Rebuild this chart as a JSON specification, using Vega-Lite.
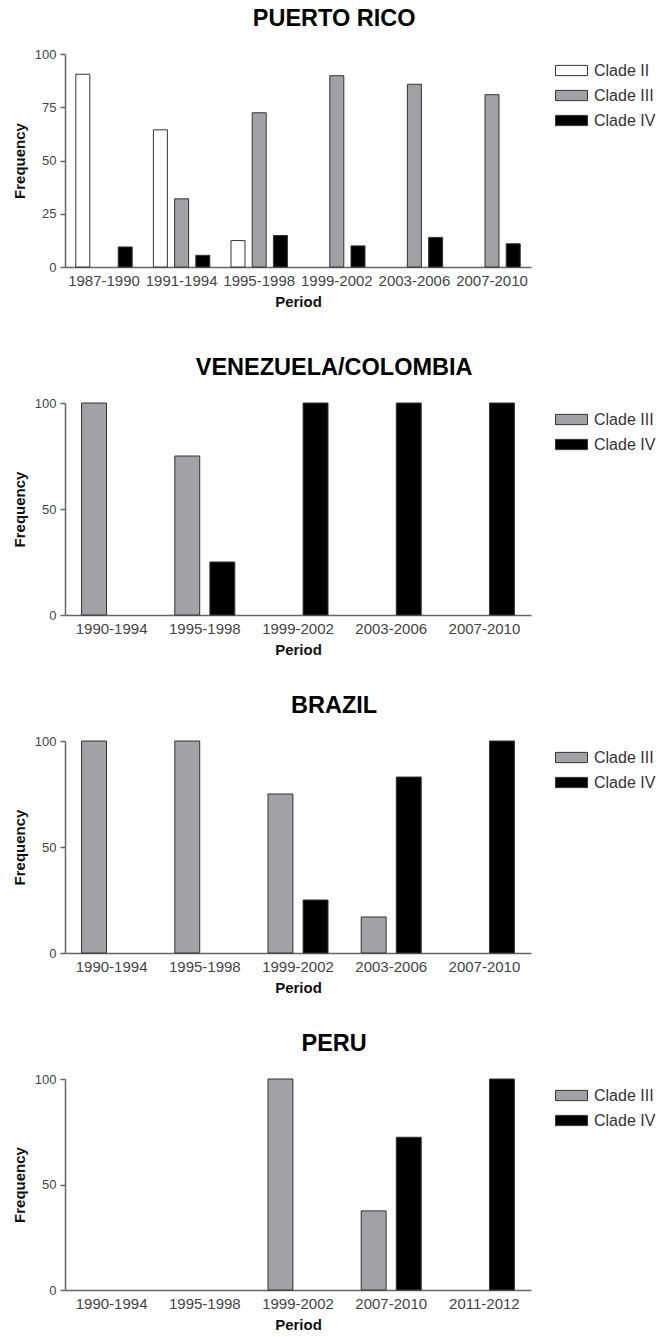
{
  "$schema": "https://vega.github.io/schema/vega-lite/v6.json",
  "padding": {"left": 12, "top": 6, "right": 5, "bottom": 5},
  "background": "white",
  "spacing": 46,
  "config": {
    "font": "Liberation Sans",
    "view": {"stroke": null},
    "axis": {"labelFont": "Liberation Sans", "labelColor": "#444", "titleColor": "#111", "titleFont": "Liberation Sans", "titleFontWeight": "bold", "titleFontSize": 15, "domainColor": "#666", "domainWidth": 1.5, "tickColor": "#666", "tickWidth": 1.5, "grid": false},
    "axisX": {"labelFontSize": 15, "ticks": false, "labelAngle": 0, "labelPadding": 6, "titlePadding": 6},
    "axisY": {"labelFontSize": 13, "tickSize": 5, "labelPadding": 4, "titlePadding": 7},
    "legend": {"orient": "right", "offset": 24, "symbolType": "M-1,-0.32H1V0.32H-1Z", "symbolSize": 1024, "symbolStrokeColor": "#333", "symbolStrokeWidth": 1, "labelFontSize": 16, "labelColor": "#333", "labelFont": "Liberation Sans", "labelOffset": 6, "rowPadding": -7.5, "padding": 0},
    "title": {"fontSize": 23.5, "fontWeight": "bold", "color": "#000", "font": "Liberation Sans", "anchor": "middle", "frame": "bounds", "offset": 18},
    "bar": {"stroke": "#333", "strokeWidth": 1}
  },
  "resolve": {"scale": {"color": "independent", "x": "independent", "y": "independent", "xOffset": "independent"}, "legend": {"color": "independent"}},
  "vconcat": [
    {
      "title": "PUERTO RICO",
      "width": 466, "height": 213,
      "data": {"values": [
        {"period": "1987-1990", "clade": "Clade II", "frequency": 90.5},
        {"period": "1987-1990", "clade": "Clade IV", "frequency": 9.4},
        {"period": "1991-1994", "clade": "Clade II", "frequency": 64.4},
        {"period": "1991-1994", "clade": "Clade III", "frequency": 32},
        {"period": "1991-1994", "clade": "Clade IV", "frequency": 5.5},
        {"period": "1995-1998", "clade": "Clade II", "frequency": 12.4},
        {"period": "1995-1998", "clade": "Clade III", "frequency": 72.4},
        {"period": "1995-1998", "clade": "Clade IV", "frequency": 14.8},
        {"period": "1999-2002", "clade": "Clade III", "frequency": 89.8},
        {"period": "1999-2002", "clade": "Clade IV", "frequency": 9.9},
        {"period": "2003-2006", "clade": "Clade III", "frequency": 85.8},
        {"period": "2003-2006", "clade": "Clade IV", "frequency": 13.9},
        {"period": "2007-2010", "clade": "Clade III", "frequency": 80.9},
        {"period": "2007-2010", "clade": "Clade IV", "frequency": 10.9}
      ]},
      "mark": {"type": "bar"},
      "encoding": {
        "x": {"field": "period", "type": "nominal", "title": "Period", "sort": null, "scale": {"domain": ["1987-1990", "1991-1994", "1995-1998", "1999-2002", "2003-2006", "2007-2010"], "paddingInner": 0.273, "paddingOuter": 0.139}},
        "xOffset": {"field": "clade", "type": "nominal", "scale": {"domain": ["Clade II", "Clade III", "Clade IV"], "paddingInner": 0.34, "paddingOuter": 0}},
        "y": {"field": "frequency", "type": "quantitative", "title": "Frequency", "scale": {"domain": [0, 100], "nice": false}, "axis": {"values": [0, 25, 50, 75, 100]}},
        "color": {"field": "clade", "type": "nominal", "scale": {"domain": ["Clade II", "Clade III", "Clade IV"], "range": ["#ffffff", "#a2a2a6", "#000000"]}, "legend": {"title": null}}
      }
    },
    {
      "spacing": 36,
      "resolve": {"scale": {"color": "independent", "x": "independent", "y": "independent", "xOffset": "independent"}, "legend": {"color": "independent"}},
      "vconcat": [
        {
          "title": "VENEZUELA/COLOMBIA",
          "width": 466, "height": 212,
          "data": {"values": [
            {"period": "1990-1994", "clade": "Clade III", "frequency": 100},
            {"period": "1995-1998", "clade": "Clade III", "frequency": 75},
            {"period": "1995-1998", "clade": "Clade IV", "frequency": 25},
            {"period": "1999-2002", "clade": "Clade IV", "frequency": 100},
            {"period": "2003-2006", "clade": "Clade IV", "frequency": 100},
            {"period": "2007-2010", "clade": "Clade IV", "frequency": 100}
          ]},
          "mark": {"type": "bar"},
          "encoding": {
            "x": {"field": "period", "type": "nominal", "title": "Period", "sort": null, "scale": {"domain": ["1990-1994", "1995-1998", "1999-2002", "2003-2006", "2007-2010"], "paddingInner": 0.356, "paddingOuter": 0.178}},
            "xOffset": {"field": "clade", "type": "nominal", "scale": {"domain": ["Clade III", "Clade IV"], "paddingInner": 0.29, "paddingOuter": 0}},
            "y": {"field": "frequency", "type": "quantitative", "title": "Frequency", "scale": {"domain": [0, 100], "nice": false}, "axis": {"values": [0, 50, 100]}},
            "color": {"field": "clade", "type": "nominal", "scale": {"domain": ["Clade III", "Clade IV"], "range": ["#a2a2a6", "#000000"]}, "legend": {"title": null}}
          }
        },
        {
          "title": "BRAZIL",
          "width": 466, "height": 212,
          "data": {"values": [
            {"period": "1990-1994", "clade": "Clade III", "frequency": 100},
            {"period": "1995-1998", "clade": "Clade III", "frequency": 100},
            {"period": "1999-2002", "clade": "Clade III", "frequency": 75},
            {"period": "1999-2002", "clade": "Clade IV", "frequency": 25},
            {"period": "2003-2006", "clade": "Clade III", "frequency": 17},
            {"period": "2003-2006", "clade": "Clade IV", "frequency": 83},
            {"period": "2007-2010", "clade": "Clade IV", "frequency": 100}
          ]},
          "mark": {"type": "bar"},
          "encoding": {
            "x": {"field": "period", "type": "nominal", "title": "Period", "sort": null, "scale": {"domain": ["1990-1994", "1995-1998", "1999-2002", "2003-2006", "2007-2010"], "paddingInner": 0.356, "paddingOuter": 0.178}},
            "xOffset": {"field": "clade", "type": "nominal", "scale": {"domain": ["Clade III", "Clade IV"], "paddingInner": 0.29, "paddingOuter": 0}},
            "y": {"field": "frequency", "type": "quantitative", "title": "Frequency", "scale": {"domain": [0, 100], "nice": false}, "axis": {"values": [0, 50, 100]}},
            "color": {"field": "clade", "type": "nominal", "scale": {"domain": ["Clade III", "Clade IV"], "range": ["#a2a2a6", "#000000"]}, "legend": {"title": null}}
          }
        },
        {
          "title": "PERU",
          "width": 466, "height": 211,
          "data": {"values": [
            {"period": "1999-2002", "clade": "Clade III", "frequency": 100},
            {"period": "2007-2010", "clade": "Clade III", "frequency": 37.5},
            {"period": "2007-2010", "clade": "Clade IV", "frequency": 72.4},
            {"period": "2011-2012", "clade": "Clade IV", "frequency": 100}
          ]},
          "mark": {"type": "bar"},
          "encoding": {
            "x": {"field": "period", "type": "nominal", "title": "Period", "sort": null, "scale": {"domain": ["1990-1994", "1995-1998", "1999-2002", "2007-2010", "2011-2012"], "paddingInner": 0.356, "paddingOuter": 0.178}},
            "xOffset": {"field": "clade", "type": "nominal", "scale": {"domain": ["Clade III", "Clade IV"], "paddingInner": 0.29, "paddingOuter": 0}},
            "y": {"field": "frequency", "type": "quantitative", "title": "Frequency", "scale": {"domain": [0, 100], "nice": false}, "axis": {"values": [0, 50, 100]}},
            "color": {"field": "clade", "type": "nominal", "scale": {"domain": ["Clade III", "Clade IV"], "range": ["#a2a2a6", "#000000"]}, "legend": {"title": null}}
          }
        }
      ]
    }
  ]
}
